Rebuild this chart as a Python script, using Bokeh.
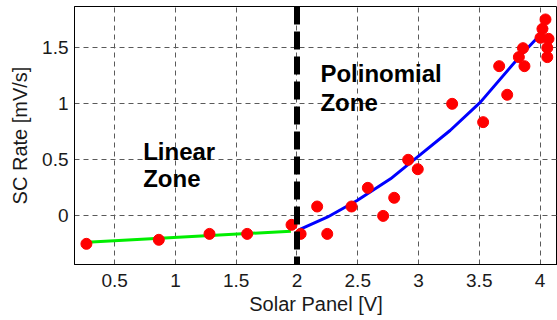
from bokeh.plotting import figure
from bokeh.models import Span, Label, FixedTicker, CustomJSTickFormatter, Range1d
from bokeh.embed import file_html
from bokeh.resources import INLINE

# measured data
pts_x = [0.267, 0.863, 1.28, 1.59, 1.955, 2.03, 2.166, 2.249, 2.449, 2.583, 2.709, 2.80,
         2.915, 2.994, 3.277, 3.532, 3.664, 3.73, 3.826, 3.86, 3.872, 4.004, 4.02, 4.045,
         4.07, 4.06, 4.06]
pts_y = [-0.256, -0.22, -0.167, -0.167, -0.086, -0.167, 0.078, -0.167, 0.078, 0.245, -0.006, 0.156,
         0.496, 0.412, 0.997, 0.833, 1.334, 1.078, 1.415, 1.495, 1.334, 1.588, 1.668, 1.752,
         1.579, 1.498, 1.415]
lin_x = [0.27, 1.95]
lin_y = [-0.241, -0.143]
poly_x = [2.015, 2.249, 2.495, 2.77, 2.99, 3.26, 3.51, 3.84, 4.06]
poly_y = [-0.131, -0.018, 0.132, 0.326, 0.52, 0.758, 1.012, 1.43, 1.683]
boundary_x = 2.0
x_ticks = [0.5, 1, 1.5, 2, 2.5, 3, 3.5, 4]
y_ticks = [0, 0.5, 1, 1.5]

FONT = "Liberation Sans"

p = figure(width=557, height=320, output_backend="svg", toolbar_location=None,
           x_range=Range1d(0.169, 4.144), y_range=Range1d(-0.441, 1.868),
           min_border_left=74, min_border_right=0, min_border_top=6, min_border_bottom=56)
p.background_fill_color = "white"
p.border_fill_color = "white"
p.outline_line_color = "black"
p.outline_line_width = 1

for ax in (p.xaxis[0], p.yaxis[0]):
    ax.axis_line_color = "black"
    ax.major_tick_line_color = None
    ax.minor_tick_line_color = None
    ax.major_tick_out = 0
    ax.major_tick_in = 0
    ax.minor_tick_out = 0
    ax.minor_tick_in = 0
    ax.major_label_text_font = FONT
    ax.major_label_text_font_size = "19px"
    ax.major_label_text_color = "#1a1a1a"
    ax.axis_label_text_font = FONT
    ax.axis_label_text_font_size = "20px"
    ax.axis_label_text_font_style = "normal"
    ax.axis_label_text_color = "#1a1a1a"
    ax.formatter = CustomJSTickFormatter(code="return tick.toString();")

p.xaxis.ticker = FixedTicker(ticks=x_ticks)
p.yaxis.ticker = FixedTicker(ticks=y_ticks)
p.xaxis.axis_label = "Solar Panel [V]"
p.yaxis.axis_label = "SC Rate [mV/s]"
p.xaxis.major_label_standoff = 9
p.yaxis.major_label_standoff = 6
p.xaxis.axis_label_standoff = 3
p.yaxis.axis_label_standoff = 8

p.grid.grid_line_color = "#5a5a5a"
p.grid.grid_line_dash = "5 4"
p.grid.grid_line_width = 1

p.line(lin_x, lin_y, line_color="#00ee00", line_width=3)
p.line(poly_x, poly_y, line_color="#0000ff", line_width=3)
p.scatter(pts_x, pts_y, size=11, fill_color="#ff0000", line_color="#ff0000")

p.add_layout(Span(location=boundary_x, dimension="height", line_color="black",
                  line_width=6, line_dash="18 7"))

for txt, x, y in [("Linear", 0.734, 0.573), ("Zone", 0.734, 0.326),
                  ("Polinomial", 2.193, 1.266), ("Zone", 2.193, 1.012)]:
    p.add_layout(Label(x=x, y=y, text=txt, text_font=FONT, text_font_size="24px",
                       text_font_style="bold", text_color="black",
                       text_baseline="alphabetic", text_align="left"))

open("out.html", "w").write(file_html(p, INLINE))
